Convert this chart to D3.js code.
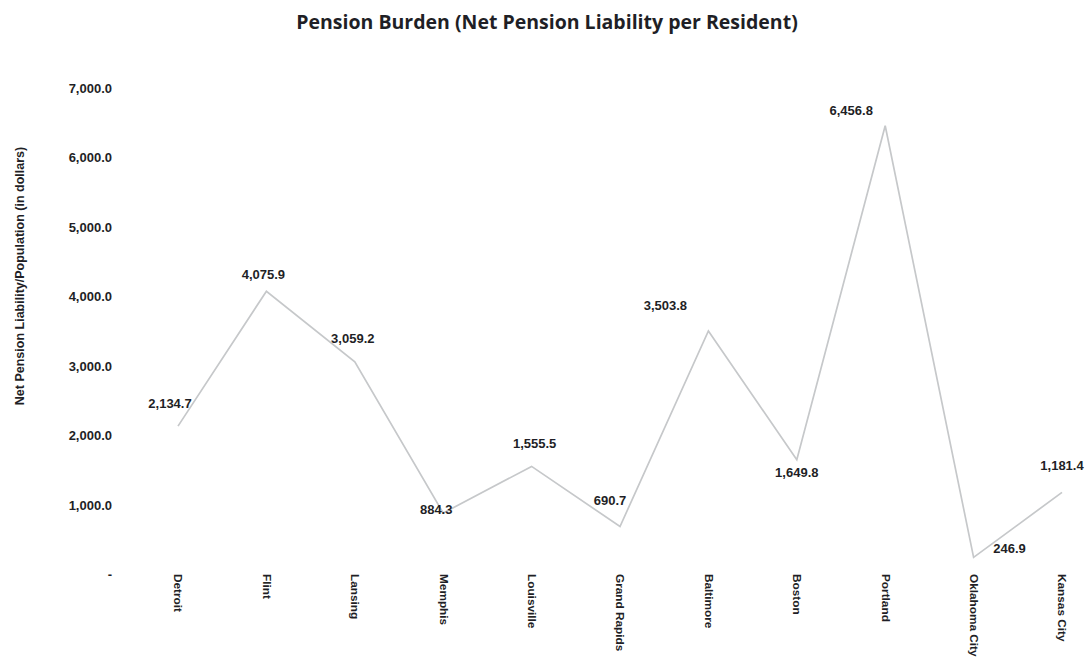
<!DOCTYPE html>
<html>
<head>
<meta charset="utf-8">
<script src="https://cdn.jsdelivr.net/npm/d3@7"></script>
<style>
  html, body { margin: 0; padding: 0; background: #fff; }
  svg { display: block; }
  text { font-family: "Liberation Sans", Arial, sans-serif; font-weight: bold; fill: #1f1f26; }
</style>
</head>
<body>
<svg id="chart" width="1085" height="660"></svg>
<script>
// ---- data ----
const cities = ["Detroit", "Flint", "Lansing", "Memphis", "Louisville", "Grand Rapids",
                "Baltimore", "Boston", "Portland", "Oklahoma City", "Kansas City"];
const liabilityPerResident = [2134.7, 4075.9, 3059.2, 884.3, 1555.5, 690.7,
                              3503.8, 1649.8, 6456.8, 246.9, 1181.4];
const yTicks = [0, 1000, 2000, 3000, 4000, 5000, 6000, 7000];
const titleText = "Pension Burden (Net Pension Liability per Resident)";
const yTitleText = "Net Pension Liability/Population  (in dollars)";

// ---- layout (label nudges, px) ----
const labelNudge = [[-8,-23],[-3,-17],[-2,-23],[-7,-4],[3,-23],[-10,-26],
                    [-43,-25],[0,13],[-34,-15],[36,-9],[0,-27]];

const W = 1085, H = 660;
const svg = d3.select("#chart");

const x = d3.scalePoint().domain(cities).range([178, 1062]);
const y = d3.scaleLinear().domain([0, 7000]).range([574.5, 88]);

// title
svg.append("text")
  .attr("x", 547).attr("y", 29)
  .attr("text-anchor", "middle")
  .style("font-family", "'Open Sans', sans-serif")
  .style("font-size", "19.5px")
  .style("font-weight", "bold")
  .text(titleText);

// y axis title
svg.append("text")
  .attr("transform", "translate(24,276) rotate(-90)")
  .attr("text-anchor", "middle")
  .style("font-size", "12.5px")
  .text(yTitleText);

// y axis
const fmt = d3.format(",.1f");
const yAxis = d3.axisLeft(y)
  .tickValues(yTicks)
  .tickSize(0)
  .tickPadding(0)
  .tickFormat(d => d === 0 ? "-" : fmt(d));
const gy = svg.append("g").attr("transform", "translate(112,0)").call(yAxis);
gy.select(".domain").remove();
gy.selectAll("text").style("font-size", "13px").style("font-family", "'Liberation Sans', Arial, sans-serif").attr("fill", "#1f1f26");

// x axis
const xAxis = d3.axisBottom(x).tickSize(0).tickPadding(0);
const gx = svg.append("g").attr("transform", "translate(0,574)").call(xAxis);
gx.select(".domain").remove();
gx.selectAll("text")
  .attr("transform", "rotate(90)")
  .attr("x", 0).attr("y", 0).attr("dy", "0.35em")
  .style("text-anchor", "start")
  .style("font-size", "11.8px")
  .style("font-family", "'Liberation Sans', Arial, sans-serif")
  .attr("fill", "#1f1f26");

// line
const line = d3.line()
  .x((d, i) => x(cities[i]))
  .y(d => y(d));
svg.append("path")
  .datum(liabilityPerResident)
  .attr("d", line)
  .attr("fill", "none")
  .attr("stroke", "#c6c8ca")
  .attr("stroke-width", 1.7)
  .attr("stroke-linejoin", "miter");

// data labels
svg.append("g").selectAll("text")
  .data(liabilityPerResident)
  .join("text")
  .attr("x", (d, i) => x(cities[i]) + labelNudge[i][0])
  .attr("y", (d, i) => y(d) + labelNudge[i][1])
  .attr("text-anchor", "middle")
  .attr("dominant-baseline", "central")
  .style("font-size", "13px")
  .text(d => fmt(d));
</script>
</body>
</html>
